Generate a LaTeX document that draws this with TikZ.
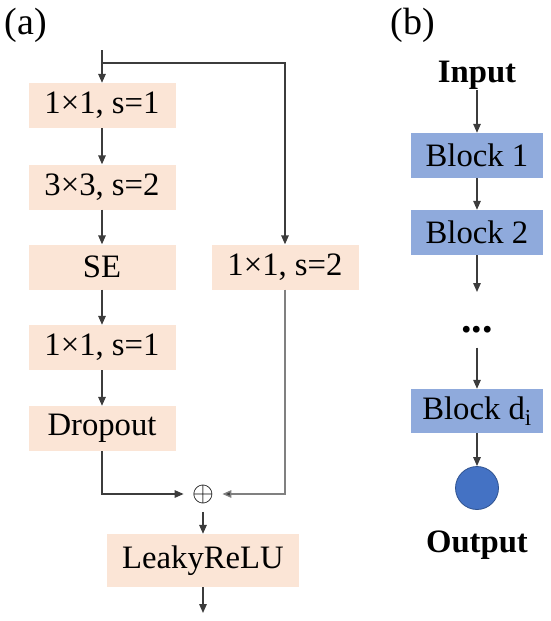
\documentclass[tikz,border=0pt]{standalone}
\usepackage{fontspec}
\setmainfont{Liberation Serif}
\usepackage{graphicx}
\usepackage{tikz}
\usetikzlibrary{arrows.meta}
\usetikzlibrary{math}
\usetikzlibrary{positioning}
\definecolor{Peach}{RGB}{251,229,214}
\definecolor{BlockBlue}{RGB}{143,170,220}
\definecolor{OutBlue}{RGB}{68,114,196}
\definecolor{OutEdge}{RGB}{47,82,143}
\definecolor{LineGray}{RGB}{60,60,60}
\tikzset{
	layer/.style={fill=Peach, minimum width=147pt, minimum height=45pt, inner sep=0pt,
		font=\fontsize{32.7}{39}\selectfont},
	block/.style={fill=BlockBlue, minimum width=132pt, minimum height=45pt, inner sep=0pt,
		font=\fontsize{32.7}{39}\selectfont},
	arr/.style={draw=LineGray, line width=1.4pt, -{Triangle[length=9pt,width=7.5pt]}},
	panel/.style={inner sep=0pt, font=\fontsize{38}{44}\selectfont},
}

\begin{document}
\begin{tikzpicture}[x=1pt,y=-1pt]
	\useasboundingbox (0,0) rectangle (550,621);
	\tikzmath{\Lx = 102; \Rx = 285; \Mx = 203; \Bx = 477;}
	% (a) residual block
	\node[panel] (la) at (26,25) {(a)};
	\coordinate (top) at (\Lx,50);
	\coordinate (split) at (\Lx,63);
	\node[layer] (c1) at (\Lx,105.5) {1×1, s=1};
	\node[layer] (c2) at (\Lx,187) {3×3, s=2};
	\node[layer] (se) at (\Lx,267) {SE};
	\node[layer] (c4) at (\Lx,347.5) {1×1, s=1};
	\node[layer] (drop) at (\Lx,428.5) {Dropout};
	\node[layer] (sc) at (\Rx,267) {1×1, s=2};
	\node[inner sep=8.3pt, font=\normalsize] (plus) at (\Mx,494) {\scalebox{2.8}{$\oplus$}};
	\node[layer, minimum width=192pt, minimum height=53pt] (leaky) at (\Mx,560.5) {LeakyReLU};
	\coordinate (outa) at (\Mx,613);
	\draw[arr] (top) -- (c1);
	\draw[arr] (split) -| (sc);
	\draw[arr] (c1) -- (c2);
	\draw[arr] (c2) -- (se);
	\draw[arr] (se) -- (c4);
	\draw[arr] (c4) -- (drop);
	\draw[arr] (drop) |- (plus);
	\draw[arr, draw=black!50, -{Triangle[length=9pt,width=7.5pt,fill=LineGray]}] (sc) |- (plus);
	\draw[arr] (plus) -- (leaky);
	\draw[arr] (leaky) -- (outa);
	% (b) stacked blocks
	\node[panel] (lb) at (413,25) {(b)};
	\node[inner sep=0pt, font=\fontsize{32.7}{39}\selectfont\bfseries] (in) at (\Bx,75.5) {Input};
	\node[block] (b1) at (\Bx,155.5) {Block 1};
	\node[block] (b2) at (\Bx,232.5) {Block 2};
	\coordinate (b2end) at (\Bx,292);
	\node[inner sep=0pt, font=\fontsize{42}{48}\selectfont\bfseries] (dots) at (\Bx,330) {...};
	\node[block, minimum height=44pt] (bd) at (\Bx,411) {Block d\textsubscript{i}};
	\node[circle, fill=OutBlue, draw=OutEdge, line width=0.8pt, minimum size=43pt, inner sep=0pt] (out) at (\Bx,488) {};
	\node[below=21pt of out, inner sep=0pt, font=\fontsize{32.7}{39}\selectfont\bfseries] (outlbl) {Output};
	\draw[arr] (in) -- (b1);
	\draw[arr] (b1) -- (b2);
	\draw[arr] (b2) -- (b2end);
	\draw[arr, shorten <=14pt] (dots) -- (bd);
	\draw[arr] (bd) -- (out);
\end{tikzpicture}
\end{document}
